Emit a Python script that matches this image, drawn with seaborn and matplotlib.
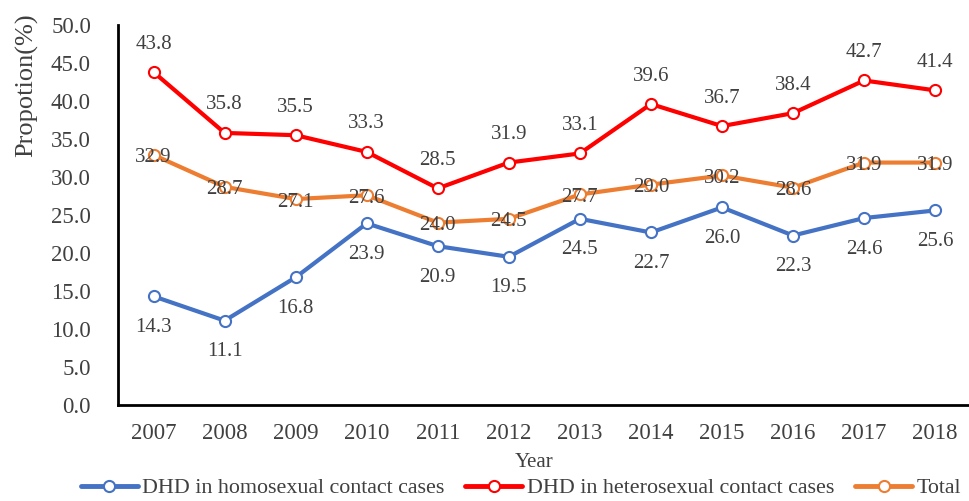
import matplotlib
matplotlib.use("Agg")
import matplotlib.pyplot as plt
import seaborn as sns
import pandas as pd
import numpy as np
from matplotlib.lines import Line2D

years = ["2007", "2008", "2009", "2010", "2011", "2012", "2013", "2014", "2015", "2016", "2017", "2018"]
homo = [14.3, 11.1, 16.8, 23.9, 20.9, 19.5, 24.5, 22.7, 26.0, 22.3, 24.6, 25.6]
hetero = [43.8, 35.8, 35.5, 33.3, 28.5, 31.9, 33.1, 39.6, 36.7, 38.4, 42.7, 41.4]
total = [32.9, 28.7, 27.1, 27.6, 24.0, 24.5, 27.7, 29.0, 30.2, 28.6, 31.9, 31.9]
series_names = ["DHD in homosexual contact cases", "DHD in heterosexual contact cases", "Total"]
colors = ["#4472C4", "#FF0000", "#ED7D31"]
text_color = "#404040"

sns.set_theme(style="white")
plt.rcParams['font.family'] = ['Liberation Serif', 'DejaVu Serif']

df = pd.DataFrame({
    "Year": list(range(len(years))) * 3,
    "Value": homo + hetero + total,
    "Series": [series_names[0]] * len(years) + [series_names[1]] * len(years) + [series_names[2]] * len(years),
})

fig = plt.figure(figsize=(9.7, 5.01), dpi=100)
ax = fig.add_axes([0.1217, 0.1916, 0.879, 0.7585])

sns.lineplot(data=df, x="Year", y="Value", hue="Series", palette=colors,
             linewidth=3.0, marker="o", markersize=8, markerfacecolor="white",
             markeredgewidth=1.5, ax=ax, legend=False)
for line, c in zip(ax.lines, colors):
    line.set_markeredgecolor(c)

offsets = [-31, 28, -3]
for vals, dy in zip([homo, hetero, total], offsets):
    for i, v in enumerate(vals):
        ax.annotate(f"{v:.1f}", (i, v), xytext=(0, dy), textcoords="offset pixels",
                    ha="center", va="center", fontsize=15, color=text_color)

ax.set_xlim(-0.5, len(years) - 0.5)
ax.set_ylim(0, 50)
ax.set_xticks(range(len(years)))
ax.set_xticklabels(years)
ticks = np.arange(0, 50.1, 5)
ax.set_yticks(ticks)
ax.set_yticklabels([f"{t:.1f}" for t in ticks])
ax.tick_params(axis="both", labelsize=16.5, colors=text_color, length=0)
ax.tick_params(axis="x", pad=13)
ax.tick_params(axis="y", pad=19.5)
ax.set_xlabel("Year", fontsize=15, color=text_color)
ax.xaxis.set_label_coords(0.488, -0.15)
ax.xaxis.label.set_va("center")
ax.set_ylabel("Propotion(%)", fontsize=19, color=text_color)
ax.yaxis.set_label_coords(-0.107, 0.842)
ax.yaxis.label.set_va("center")
for s in ["top", "right"]:
    ax.spines[s].set_visible(False)
for s in ["left", "bottom"]:
    ax.spines[s].set_color("black")
    ax.spines[s].set_linewidth(2)

handles = [Line2D([0], [0], color=c, linewidth=3.5, marker="o", markersize=8,
                  markerfacecolor="white", markeredgecolor=c, markeredgewidth=1.5) for c in colors]
fig.legend(handles, series_names, loc="center", bbox_to_anchor=(0.537, 1 - 488 / 501), ncol=3,
           frameon=False, fontsize=15.8, handlelength=2.6, columnspacing=0.95, handletextpad=0.2,
           labelcolor=text_color, borderpad=0, borderaxespad=0)

fig.savefig("out.png", dpi=100)
